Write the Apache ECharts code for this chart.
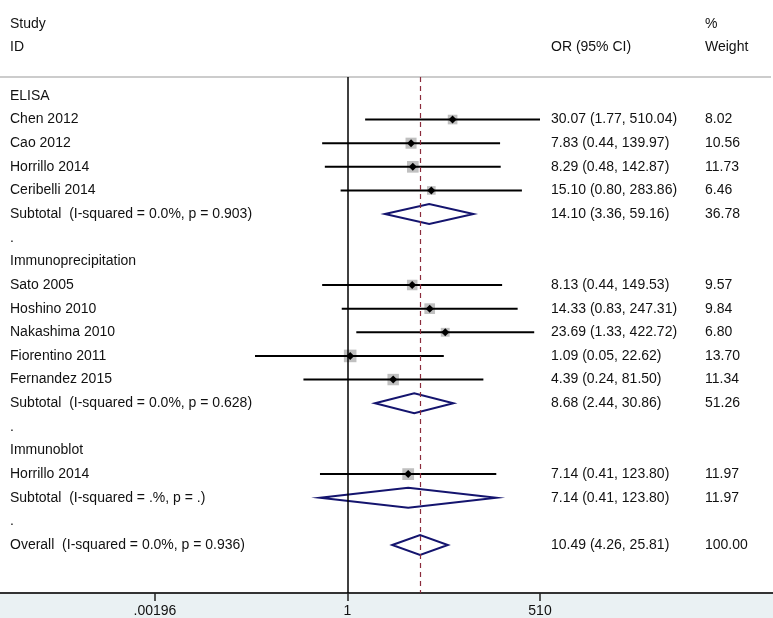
<!DOCTYPE html>
<html><head><meta charset="utf-8">
<script src="https://cdn.jsdelivr.net/npm/echarts@6/dist/echarts.min.js"></script>
<style>html,body{margin:0;padding:0;background:#fff}#c{width:773px;height:618px}</style>
</head><body><div id="c"></div>
<script>
const labels = ['ELISA','Chen 2012','Cao 2012','Horrillo 2014','Ceribelli 2014',
  'Subtotal  (I-squared = 0.0%, p = 0.903)','.','Immunoprecipitation','Sato 2005','Hoshino 2010',
  'Nakashima 2010','Fiorentino 2011','Fernandez 2015','Subtotal  (I-squared = 0.0%, p = 0.628)','.',
  'Immunoblot','Horrillo 2014','Subtotal  (I-squared = .%, p = .)','.','Overall  (I-squared = 0.0%, p = 0.936)'];
const kinds = ['group','study','study','study','study','pooled','blank','group','study','study',
  'study','study','study','pooled','blank','group','study','pooled','blank','pooled'];
const orVals  = [null,30.07,7.83,8.29,15.10,14.10,null,null,8.13,14.33,23.69,1.09,4.39,8.68,null,null,7.14,7.14,null,10.49];
const lowerCI = [null,1.77,0.44,0.48,0.80,3.36,null,null,0.44,0.83,1.33,0.05,0.24,2.44,null,null,0.41,0.41,null,4.26];
const upperCI = [null,510.04,139.97,142.87,283.86,59.16,null,null,149.53,247.31,422.72,22.62,81.50,30.86,null,null,123.80,123.80,null,25.81];
const weights = [null,8.02,10.56,11.73,6.46,36.78,null,null,9.57,9.84,6.80,13.70,11.34,51.26,null,null,11.97,11.97,null,100.00];
const overallOR = 10.49;
const tickValues = [1/510, 1, 510];
const tickLabels = ['.00196','1','510'];

const FONT = '"Liberation Sans", Arial, Helvetica, sans-serif';
const FS = 14;
const chart = echarts.init(document.getElementById('c'));

function txt(text, x, y, extra){
  return Object.assign({type:'text', style:{text:text, x:x, y:y, fill:'#111', fontSize:FS, fontFamily:FONT, verticalAlign:'middle'}}, extra||{});
}

function renderItem(params, api){
  const i = params.dataIndex;
  const y = api.coord([1, i])[1];
  const children = [];
  children.push(txt(labels[i], 10, y));
  if (orVals[i] != null){
    const pL = api.coord([lowerCI[i], i]);
    const pH = api.coord([upperCI[i], i]);
    const pM = api.coord([orVals[i], i]);
    children.push(txt(orVals[i].toFixed(2)+' ('+lowerCI[i].toFixed(2)+', '+upperCI[i].toFixed(2)+')', 551, y));
    children.push(txt(weights[i].toFixed(2), 705, y));
    if (kinds[i] === 'study'){
      const s = 3.4*Math.sqrt(weights[i]);
      children.push({type:'rect', shape:{x:pM[0]-s/2, y:y-s/2, width:s, height:s}, style:{fill:'#c0c0c0'}});
      children.push({type:'line', shape:{x1:pL[0], y1:y, x2:pH[0], y2:y}, style:{stroke:'#000', lineWidth:2}});
      const d = 4;
      children.push({type:'polygon', shape:{points:[[pM[0],y-d],[pM[0]+d,y],[pM[0],y+d],[pM[0]-d,y]]}, style:{fill:'#000'}});
    } else {
      const h = 10;
      children.push({type:'polygon', shape:{points:[[pL[0],y],[pM[0],y-h],[pH[0],y],[pM[0],y+h]]},
        style:{fill:'none', stroke:'#14146e', lineWidth:2}});
    }
  }
  return {type:'group', children:children};
}

const data = labels.map((l,i)=>[orVals[i] == null ? 1 : orVals[i], i]);

chart.setOption({
  animation:false,
  grid:{left:155, width:385, top:77, height:516},
  xAxis:{type:'log', logBase:510, min:tickValues[0], max:tickValues[2], position:'bottom',
    axisLine:{show:false, onZero:false},
    axisTick:{show:true, length:8, lineStyle:{color:'#222', width:1.5}},
    splitLine:{show:false}, minorTick:{show:false},
    axisLabel:{margin:11, fontSize:FS, fontFamily:FONT, color:'#111',
      formatter:function(v){
        let best=0, bd=Infinity;
        tickValues.forEach((t,k)=>{const dd=Math.abs(Math.log(t)-Math.log(v)); if(dd<bd){bd=dd;best=k;}});
        return tickLabels[best];
      }}
  },
  yAxis:{type:'value', inverse:true, min:-0.8, max:21.03, show:false},
  graphic:[
    {type:'rect', z:-10, shape:{x:0, y:594, width:773, height:24}, style:{fill:'#eaf1f3'}},
    {type:'line', shape:{x1:0, y1:593, x2:773, y2:593}, style:{stroke:'#333', lineWidth:2}},
    {type:'line', shape:{x1:0, y1:77, x2:771, y2:77}, style:{stroke:'#cccccc', lineWidth:2}},
    txt('Study', 10, 24), txt('ID', 10, 47), txt('OR (95% CI)', 551, 47),
    txt('%', 705, 24), txt('Weight', 705, 47)
  ],
  series:[{
    type:'custom', renderItem:renderItem, data:data, clip:false,
    encode:{x:0, y:1},
    markLine:{silent:true, symbol:'none', label:{show:false},
      data:[
        {xAxis:1, lineStyle:{color:'#000', width:1.5, type:'solid'}},
        {xAxis:overallOR, lineStyle:{color:'#8b2c3c', width:1.2, type:[5,4]}}
      ]}
  }]
});
</script></body></html>
